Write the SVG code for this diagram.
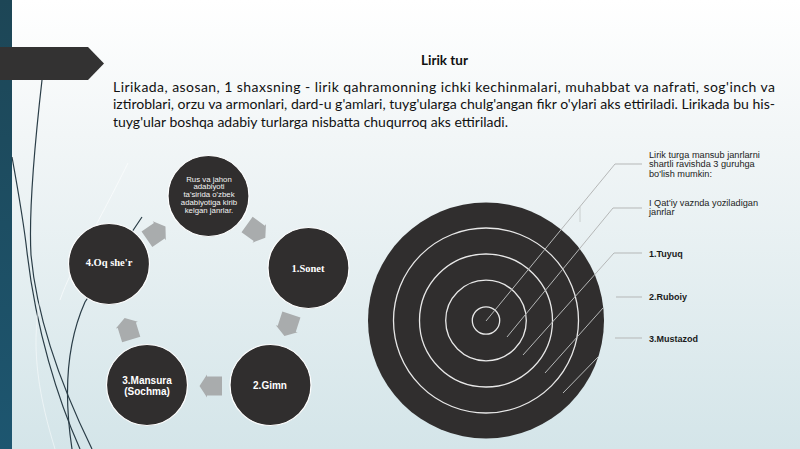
<svg xmlns="http://www.w3.org/2000/svg" width="800" height="449" viewBox="0 0 800 449">
<defs>
  <linearGradient id="bg" x1="0" y1="0" x2="0" y2="1">
    <stop offset="0" stop-color="#ffffff"/>
    <stop offset="0.3" stop-color="#f2f6f7"/>
    <stop offset="1" stop-color="#d4e5e9"/>
  </linearGradient>
  <linearGradient id="stripe" x1="0" y1="0" x2="0" y2="1">
    <stop offset="0" stop-color="#1d4656"/>
    <stop offset="1" stop-color="#1d5670"/>
  </linearGradient>
  <path id="arr" d="M-11,-9.5 H4 V-11.5 L11.5,0 L4,11.5 V9.5 H-11 Z"/>
</defs>
<style>
  .para { font-family: Lato, "Open Sans", "Liberation Sans", sans-serif; font-size: 14px; fill: #111; }
  .node { fill: #302e2e; stroke: #ffffff; stroke-width: 1.2; }
  .ntxt { font-family: "Liberation Sans", Arial, sans-serif; font-weight: bold; fill: #fff; text-anchor: middle; }
  .serif { font-family: "Liberation Serif", "Times New Roman", serif; font-weight: bold; fill: #fff; text-anchor: middle; font-size: 10.5px; }
  .small { font-family: "Liberation Sans", Arial, sans-serif; font-size: 7.8px; fill: #f4f4f4; text-anchor: middle; }
  .lab { font-family: "Liberation Sans", Arial, sans-serif; font-size: 9.2px; fill: #222; }
  .labb { font-family: "Liberation Sans", Arial, sans-serif; font-size: 9px; font-weight: bold; fill: #1a1a1a; }
  .lead { fill: none; stroke: #b5b7b7; stroke-width: 1; }
  .deco { fill: none; stroke: #2a3d47; stroke-width: 1.2; }
  .garr { fill: #a9acad; }
</style>

<!-- background -->
<rect x="0" y="0" width="800" height="449" fill="url(#bg)"/>
<rect x="0" y="0" width="12" height="449" fill="url(#stripe)"/>

<!-- decorative curves -->
<g id="decor">
  <path class="deco" d="M42,80 C34,150 29,220 31,255 C38,330 68,400 92,449"/>
  <path class="deco" d="M12,157 C18,190 24,225 27,252 C36,330 58,400 80,449"/>
  <path class="deco" stroke-width="1" d="M142,217 L85,302 C68,340 63,390 72,449"/>
  <path fill="none" stroke="#ffffff" stroke-opacity="0.6" stroke-width="1" d="M128,163 C100,220 70,270 60,300"/>
  <path fill="none" stroke="#ffffff" stroke-opacity="0.5" stroke-width="1" d="M40,300 C30,350 40,400 55,449"/>
</g>

<!-- banner -->
<polygon points="0,47 88,47 104,63.5 88,80 0,80" fill="#333232"/>

<!-- title and paragraph -->
<text x="421" y="65" font-family="Lato, 'Open Sans', 'Liberation Sans', sans-serif" font-weight="bold" font-size="14" fill="#111" textLength="47" lengthAdjust="spacingAndGlyphs">Lirik tur</text>
<text class="para" x="113" y="91.5" textLength="662" lengthAdjust="spacing">Lirikada, asosan, 1 shaxsning - lirik qahramonning ichki kechinmalari, muhabbat va nafrati, sog'inch va</text>
<text class="para" x="113" y="109" textLength="662" lengthAdjust="spacingAndGlyphs">iztiroblari, orzu va armonlari, dard-u g'amlari, tuyg'ularga chulg'angan fikr o'ylari aks ettiriladi. Lirikada bu his-</text>
<text class="para" x="113" y="126.5" textLength="395" lengthAdjust="spacingAndGlyphs">tuyg'ular boshqa adabiy turlarga nisbatta chuqurroq aks ettiriladi.</text>

<!-- cycle arrows -->
<g id="connectors">
  <use href="#arr" class="garr" transform="translate(256,231) rotate(35.8)"/>
  <use href="#arr" class="garr" transform="translate(288,325) rotate(108)"/>
  <use href="#arr" class="garr" transform="translate(211,386) rotate(180)"/>
  <use href="#arr" class="garr" transform="translate(128,329) rotate(-107)"/>
  <use href="#arr" class="garr" transform="translate(156,233) rotate(-34.5)"/>
</g>

<!-- cycle nodes -->
<g id="node-top">
  <circle class="node" cx="208.5" cy="196" r="40.5"/>
  <text class="small" x="209" y="181.5">Rus va jahon</text>
  <text class="small" x="209" y="189.3">adabiyoti</text>
  <text class="small" x="209" y="197">ta'sirida o'zbek</text>
  <text class="small" x="209" y="204.8">adabiyotiga kirib</text>
  <text class="small" x="209" y="213">kelgan janrlar.</text>
</g>
<g id="node-sonet">
  <circle class="node" cx="308.5" cy="268" r="40.5"/>
  <text class="serif" x="308" y="272">1.Sonet</text>
</g>
<g id="node-gimn">
  <circle class="node" cx="270.5" cy="385" r="40.5"/>
  <text class="ntxt" font-size="10" x="270" y="389">2.Gimn</text>
</g>
<g id="node-mansura">
  <circle class="node" cx="147" cy="385" r="40.5"/>
  <text class="ntxt" font-size="10" x="147" y="384">3.Mansura</text>
  <text class="ntxt" font-size="10" x="147" y="394.5">(Sochma)</text>
</g>
<g id="node-oq">
  <circle class="node" cx="109" cy="264" r="40.5"/>
  <text class="serif" x="109" y="265.5">4.Oq she'r</text>
</g>

<!-- target -->
<g id="target">
  <circle cx="486" cy="320.5" r="118" fill="#302e2e"/>
  <g fill="none" stroke="#e8e8e8" stroke-width="1.3">
    <circle cx="486" cy="320.5" r="92.5"/>
    <circle cx="486" cy="320.5" r="66.5"/>
    <circle cx="486" cy="320.5" r="40.3"/>
    <circle cx="486" cy="320.5" r="13.7"/>
  </g>
</g>

<!-- leader lines -->
<g id="leaders">
  <path class="lead" d="M642,164 H615 L486,321"/>
  <path class="lead" stroke-opacity="0.6" d="M580,207 V222"/>
  <path class="lead" d="M642,208 H613 L507,337"/>
  <path class="lead" d="M642,253 H614 L523,355"/>
  <path class="lead" d="M642,297 H616"/>
  <path class="lead" d="M603,308 L545,373"/>
  <path class="lead" d="M642,338 H615"/>
  <path class="lead" d="M598,357 L563,393"/>
</g>

<!-- labels -->
<g id="labels">
  <text class="lab" x="649" y="157.5">Lirik turga mansub janrlarni</text>
  <text class="lab" x="649" y="167">shartli ravishda 3 guruhga</text>
  <text class="lab" x="649" y="176.5">bo'lish mumkin:</text>
  <text class="lab" x="649" y="205.5">I Qat'iy vaznda yoziladigan</text>
  <text class="lab" x="649" y="215">janrlar</text>
  <text class="labb" x="649" y="256.5">1.Tuyuq</text>
  <text class="labb" x="649" y="299.5">2.Ruboiy</text>
  <text class="labb" x="649" y="341.5">3.Mustazod</text>
</g>
</svg>
